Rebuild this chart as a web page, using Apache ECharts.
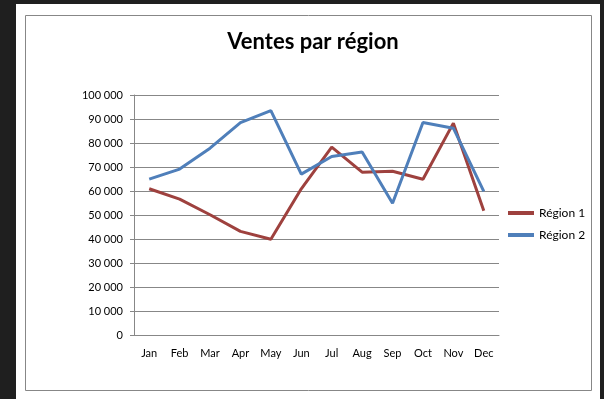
<!DOCTYPE html>
<html>
<head>
<meta charset="utf-8">
<script src="https://cdn.jsdelivr.net/npm/echarts@6/dist/echarts.min.js"></script>
<style>
  html, body { margin: 0; padding: 0; background: #1f1f1f; }
  #chart { width: 604px; height: 399px; }
</style>
</head>
<body>
<div id="chart"></div>
<script>
const months = ["Jan", "Feb", "Mar", "Apr", "May", "Jun", "Jul", "Aug", "Sep", "Oct", "Nov", "Dec"];
const region1 = [61000, 56700, 50200, 43300, 40000, 61000, 78300, 67900, 68300, 65000, 88300, 51900];
const region2 = [65000, 69200, 77900, 88500, 93500, 67100, 74400, 76300, 55000, 88600, 86200, 59900];
const yTicks = { min: 0, max: 100000, step: 10000 };

const font = "Lato, Calibri, sans-serif";
const gray = "#878787";

const chart = echarts.init(document.getElementById("chart"));
chart.setOption({
  backgroundColor: "transparent",
  textStyle: { fontFamily: font },
  graphic: [
    // white page + chart frame
    { type: "rect", z: -10, shape: { x: 16, y: 4, width: 584, height: 395 }, style: { fill: "#fff" } },
    { type: "rect", z: -9, shape: { x: 25.5, y: 15.5, width: 566, height: 375 }, style: { fill: "none", stroke: gray, lineWidth: 1 } },
  ],
  title: {
    text: "Ventes par région",
    left: 308,
    top: 26,
    textAlign: "center",
    textStyle: { fontFamily: font, fontSize: 22, fontWeight: "bold", color: "#000" },
  },
  legend: {
    orient: "vertical",
    left: 503,
    top: 202,
    itemWidth: 26,
    itemHeight: 4,
    itemGap: 10,
    icon: "rect",
    textStyle: { fontFamily: font, fontSize: 12, color: "#000" },
    data: [
      { name: "Région 1", itemStyle: { color: "#9e413e" } },
      { name: "Région 2", itemStyle: { color: "#4f7fba" } },
    ],
  },
  grid: { left: 134, right: 105, top: 95, bottom: 63.5 },
  xAxis: {
    type: "category",
    data: months,
    boundaryGap: true,
    axisLine: { lineStyle: { color: gray } },
    axisTick: { length: 4, lineStyle: { color: gray } },
    axisLabel: { margin: 12, fontSize: 11, color: "#000", fontFamily: font },
  },
  yAxis: {
    type: "value",
    min: yTicks.min,
    max: yTicks.max,
    interval: yTicks.step,
    axisLine: { show: true, lineStyle: { color: gray } },
    axisTick: { show: true, length: 4, lineStyle: { color: gray } },
    splitLine: { lineStyle: { color: gray } },
    axisLabel: {
      margin: 11,
      fontSize: 11,
      color: "#000",
      fontFamily: font,
      formatter: (v) => String(v).replace(/\B(?=(\d{3})+(?!\d))/g, " "),
    },
  },
  series: [
    {
      name: "Région 1",
      type: "line",
      data: region1,
      symbol: "none",
      lineStyle: { width: 3, color: "#9e413e" },
      itemStyle: { color: "#9e413e" },
    },
    {
      name: "Région 2",
      type: "line",
      data: region2,
      symbol: "none",
      lineStyle: { width: 3, color: "#4f7fba" },
      itemStyle: { color: "#4f7fba" },
    },
  ],
});
</script>
</body>
</html>
